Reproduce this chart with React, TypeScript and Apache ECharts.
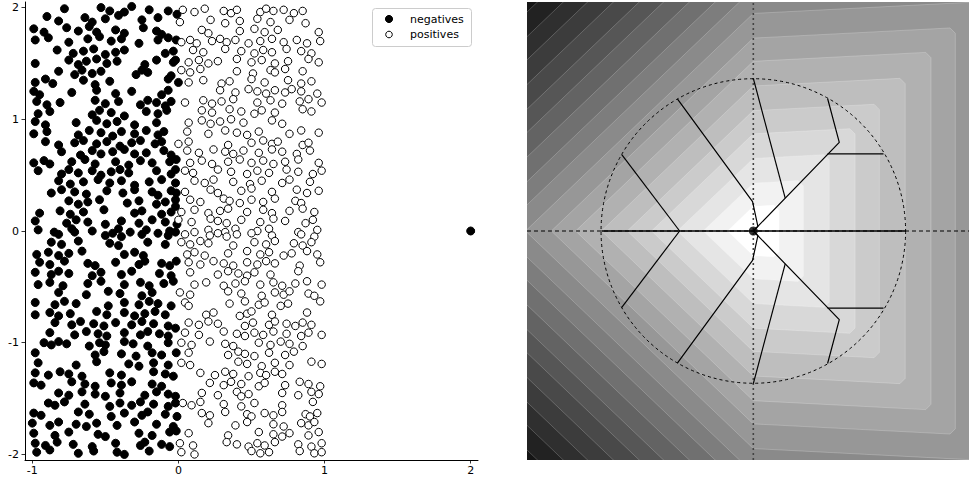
import React, { useEffect, useRef } from "react";
import * as echarts from "echarts";

const xTicks = [-1, 0, 1, 2];
const yTicks = [-2, -1, 0, 1, 2];

const negatives: number[][] = [
  [-0.78,1.99],[-0.53,2.0],[-0.47,1.97],[-0.37,1.96],[-0.32,2.01],[-0.2,1.98],[-0.07,1.97],
  [-0.9,1.92],[-0.82,1.88],[-0.64,1.91],[-0.59,1.87],[-0.5,1.9],[-0.41,1.93],[-0.25,1.89],[-0.14,1.91],[-0.01,1.94],
  [-0.99,1.81],[-0.92,1.78],[-0.765,1.82],[-0.685,1.79],[-0.61,1.83],[-0.56,1.78],[-0.43,1.8],[-0.37,1.77],[-0.24,1.82],[-0.15,1.79],[-0.115,1.76],
  [-0.98,1.71],[-0.89,1.73],[-0.75,1.69],[-0.62,1.72],[-0.54,1.74],[-0.46,1.7],[-0.39,1.72],[-0.27,1.68],[-0.14,1.71],[-0.07,1.73],
  [-0.83,1.62],[-0.72,1.59],[-0.65,1.61],[-0.58,1.63],[-0.5,1.58],[-0.43,1.6],[-0.37,1.62],[-0.09,1.59],[-0.035,1.61],
  [-0.98,1.5],[-0.75,1.53],[-0.685,1.49],[-0.63,1.52],[-0.56,1.54],[-0.49,1.5],[-0.42,1.52],[-0.23,1.49],[-0.15,1.53],[-0.035,1.51],
  [-0.82,1.43],[-0.71,1.4],[-0.66,1.44],[-0.59,1.41],[-0.53,1.43],[-0.29,1.4],[-0.25,1.44],[-0.21,1.42],[-0.05,1.39],
  [-0.98,1.33],[-0.91,1.36],[-0.86,1.32],[-0.65,1.35],[-0.57,1.31],[-0.47,1.34],[-0.07,1.36],[0.0,1.33],
  [-0.99,1.25],[-0.95,1.22],[-0.73,1.24],[-0.56,1.26],[-0.43,1.23],[-0.32,1.25],[-0.115,1.22],[-0.07,1.26],
  [-0.97,1.16],[-0.9,1.13],[-0.81,1.15],[-0.57,1.17],[-0.5,1.14],[-0.41,1.16],[-0.26,1.13],[-0.21,1.17],[-0.15,1.15],[-0.09,1.12],[-0.05,1.16],
  [-0.96,1.05],[-0.88,1.07],[-0.59,1.04],[-0.54,1.08],[-0.46,1.06],[-0.37,1.03],[-0.22,1.07],[-0.14,1.05],[-0.08,1.08],
  [-0.98,0.98],[-0.91,0.95],[-0.7,0.97],[-0.56,0.99],[-0.49,0.96],[-0.42,0.98],[-0.3,0.95],[-0.15,0.97],
  [-0.99,0.87],[-0.9,0.89],[-0.685,0.86],[-0.61,0.9],[-0.53,0.88],[-0.45,0.85],[-0.39,0.89],[-0.3,0.87],[-0.22,0.9],[-0.14,0.86],[-0.1,0.89],
  [-0.91,0.8],[-0.82,0.77],[-0.71,0.79],[-0.65,0.81],[-0.56,0.78],[-0.49,0.8],[-0.4,0.76],[-0.32,0.79],[-0.26,0.81],[-0.16,0.78],[-0.115,0.8],
  [-0.8,0.71],[-0.67,0.68],[-0.59,0.72],[-0.53,0.69],[-0.45,0.71],[-0.37,0.73],[-0.3,0.69],[-0.22,0.7],[-0.1,0.72],[-0.05,0.68],
  [-0.99,0.61],[-0.92,0.63],[-0.88,0.6],[-0.73,0.62],[-0.64,0.64],[-0.57,0.6],[-0.43,0.62],[-0.34,0.59],[-0.26,0.63],[-0.18,0.61],[-0.06,0.62],
  [-0.96,0.54],[-0.8,0.51],[-0.75,0.55],[-0.685,0.52],[-0.59,0.54],[-0.53,0.5],[-0.46,0.53],[-0.4,0.55],[-0.34,0.52],[-0.15,0.54],[-0.05,0.51],
  [-0.82,0.45],[-0.74,0.42],[-0.65,0.44],[-0.55,0.46],[-0.47,0.43],[-0.39,0.45],[-0.3,0.41],[-0.2,0.44],[-0.115,0.46],[-0.02,0.43],
  [-0.87,0.34],[-0.8,0.37],[-0.71,0.35],[-0.63,0.33],[-0.49,0.36],[-0.38,0.34],[-0.3,0.37],[-0.18,0.35],[-0.14,0.32],[-0.05,0.36],
  [-0.75,0.27],[-0.685,0.24],[-0.62,0.26],[-0.54,0.28],[-0.35,0.25],[-0.27,0.27],[-0.15,0.24],[-0.09,0.26],[-0.02,0.28],
  [-0.95,0.16],[-0.81,0.18],[-0.74,0.15],[-0.65,0.17],[-0.51,0.19],[-0.3,0.16],[-0.25,0.18],[-0.115,0.15],[-0.05,0.17],
  [-0.98,0.09],[-0.765,0.07],[-0.7,0.1],[-0.62,0.08],[-0.5,0.06],[-0.39,0.09],[-0.27,0.07],[-0.18,0.1],[-0.09,0.08],[-0.01,0.06],
  [-0.96,0.01],[-0.85,-0.01],[-0.73,0.02],[-0.59,0.0],[-0.41,0.02],[-0.33,-0.01],[-0.22,0.01],[-0.06,0.0],
  [-0.82,-0.03],[-0.71,-0.01],[-0.5,-0.04],[-0.45,-0.02],[-0.39,-0.05],[-0.25,-0.03],[-0.14,-0.02],[-0.07,-0.04],[-0.02,-0.01],
  [-0.87,-0.1],[-0.8,-0.12],[-0.685,-0.09],[-0.47,-0.11],[-0.41,-0.13],[-0.21,-0.1],[-0.09,-0.12],
  [-0.97,-0.21],[-0.89,-0.19],[-0.82,-0.22],[-0.75,-0.2],[-0.66,-0.18],[-0.37,-0.21],[-0.3,-0.19],[-0.24,-0.22],
  [-0.95,-0.28],[-0.88,-0.3],[-0.78,-0.27],[-0.62,-0.29],[-0.57,-0.31],[-0.43,-0.28],[-0.27,-0.3],[-0.23,-0.27],[-0.115,-0.29],[-0.06,-0.31],
  [-0.98,-0.37],[-0.87,-0.39],[-0.82,-0.36],[-0.75,-0.38],[-0.59,-0.4],[-0.53,-0.37],[-0.39,-0.39],[-0.32,-0.36],[-0.13,-0.38],[-0.05,-0.4],
  [-0.96,-0.48],[-0.88,-0.46],[-0.79,-0.49],[-0.62,-0.47],[-0.53,-0.45],[-0.37,-0.48],[-0.26,-0.46],[-0.2,-0.49],[-0.1,-0.47],[-0.035,-0.45],
  [-0.82,-0.55],[-0.63,-0.57],[-0.48,-0.54],[-0.4,-0.56],[-0.25,-0.58],[-0.18,-0.55],
  [-0.98,-0.64],[-0.845,-0.66],[-0.78,-0.63],[-0.7,-0.65],[-0.48,-0.67],[-0.37,-0.64],[-0.27,-0.66],[-0.2,-0.63],[-0.14,-0.65],[-0.05,-0.67],
  [-0.98,-0.75],[-0.88,-0.73],[-0.82,-0.76],[-0.74,-0.74],[-0.56,-0.72],[-0.49,-0.75],[-0.37,-0.73],[-0.3,-0.76],[-0.23,-0.74],[-0.16,-0.72],[-0.09,-0.75],
  [-0.845,-0.82],[-0.73,-0.84],[-0.67,-0.81],[-0.58,-0.83],[-0.51,-0.85],[-0.43,-0.82],[-0.32,-0.84],[-0.25,-0.81],[-0.17,-0.83],[-0.07,-0.85],
  [-0.88,-0.91],[-0.71,-0.93],[-0.63,-0.9],[-0.55,-0.92],[-0.49,-0.94],[-0.37,-0.91],[-0.26,-0.93],[-0.21,-0.9],[-0.13,-0.92],[-0.07,-0.94],
  [-0.92,-1.0],[-0.87,-1.02],[-0.82,-0.99],[-0.765,-1.01],[-0.61,-1.03],[-0.54,-1.0],[-0.5,-1.02],[-0.37,-0.99],[-0.31,-1.01],[-0.21,-1.03],[-0.07,-1.0],
  [-0.98,-1.09],[-0.57,-1.11],[-0.51,-1.08],[-0.39,-1.1],[-0.29,-1.12],[-0.18,-1.09],[-0.115,-1.11],
  [-0.96,-1.18],[-0.7,-1.2],[-0.56,-1.17],[-0.34,-1.19],[-0.27,-1.21],[-0.17,-1.18],[-0.07,-1.2],
  [-0.98,-1.27],[-0.89,-1.29],[-0.81,-1.26],[-0.75,-1.28],[-0.66,-1.3],[-0.47,-1.27],[-0.39,-1.29],[-0.17,-1.26],[-0.09,-1.28],[-0.035,-1.3],
  [-0.99,-1.36],[-0.94,-1.38],[-0.73,-1.35],[-0.64,-1.37],[-0.57,-1.39],[-0.46,-1.36],[-0.39,-1.38],[-0.32,-1.35],[-0.18,-1.37],[-0.115,-1.39],
  [-0.82,-1.45],[-0.75,-1.47],[-0.66,-1.44],[-0.57,-1.46],[-0.5,-1.48],[-0.4,-1.45],[-0.23,-1.47],[-0.15,-1.44],[-0.07,-1.46],[-0.02,-1.48],
  [-0.89,-1.54],[-0.845,-1.56],[-0.78,-1.53],[-0.64,-1.55],[-0.47,-1.57],[-0.4,-1.54],[-0.32,-1.56],[-0.26,-1.53],[-0.17,-1.55],[-0.07,-1.57],
  [-0.99,-1.63],[-0.94,-1.65],[-0.685,-1.62],[-0.61,-1.64],[-0.46,-1.66],[-0.37,-1.63],[-0.25,-1.65],[-0.21,-1.62],[-0.09,-1.64],[-0.01,-1.66],
  [-1.0,-1.72],[-0.88,-1.74],[-0.82,-1.71],[-0.7,-1.73],[-0.63,-1.75],[-0.56,-1.72],[-0.42,-1.74],[-0.3,-1.71],[-0.15,-1.73],[-0.035,-1.75],
  [-0.99,-1.81],[-0.845,-1.83],[-0.75,-1.8],[-0.55,-1.82],[-0.5,-1.84],[-0.27,-1.81],[-0.18,-1.83],[-0.06,-1.8],
  [-0.98,-1.9],[-0.91,-1.92],[-0.83,-1.89],[-0.72,-1.91],[-0.59,-1.93],[-0.43,-1.9],[-0.26,-1.92],[-0.23,-1.89],[-0.115,-1.91],[-0.06,-1.93],
  [-0.97,-1.98],[-0.88,-1.96],[-0.685,-1.99],[-0.58,-1.97],[-0.42,-1.98],[-0.37,-2.0],[-0.2,-1.97],
  [-0.015,1.71],[-0.02,1.53],[-0.015,0.64],[-0.02,0.55],[-0.015,0.34],[-0.02,0.22],
  [-0.015,-0.27],[-0.02,-0.87],[-0.015,-1.09],[-0.02,-1.54],[-0.015,-1.79],
  [2.0,0.0],
];

const positives: number[][] = [
  [0.03,1.98],[0.11,1.96],[0.18,1.99],[0.31,1.97],[0.36,1.95],[0.4,1.98],[0.56,1.96],[0.6,1.99],[0.65,1.97],[0.72,1.98],[0.79,1.95],[0.85,1.97],
  [0.01,1.87],[0.22,1.89],[0.32,1.86],[0.42,1.88],[0.54,1.9],[0.63,1.87],[0.76,1.89],[0.87,1.86],
  [0.16,1.8],[0.205,1.77],[0.42,1.79],[0.52,1.81],[0.59,1.78],[0.68,1.8],[0.96,1.78],
  [0.02,1.69],[0.08,1.71],[0.125,1.68],[0.23,1.7],[0.285,1.72],[0.33,1.69],[0.39,1.71],[0.48,1.68],[0.56,1.7],[0.64,1.72],[0.72,1.69],[0.81,1.71],[0.88,1.68],[0.97,1.7],
  [0.1,1.62],[0.17,1.6],[0.32,1.63],[0.43,1.61],[0.52,1.59],[0.58,1.62],[0.64,1.6],[0.74,1.63],[0.84,1.61],[0.91,1.59],
  [0.07,1.51],[0.14,1.53],[0.205,1.5],[0.27,1.52],[0.4,1.54],[0.5,1.51],[0.57,1.53],[0.66,1.5],[0.75,1.52],[0.89,1.54],[0.96,1.51],
  [0.02,1.44],[0.08,1.42],[0.15,1.45],[0.4,1.43],[0.51,1.41],[0.63,1.44],[0.66,1.42],[0.73,1.45],[0.85,1.43],
  [0.07,1.33],[0.17,1.35],[0.295,1.32],[0.35,1.34],[0.5,1.36],[0.59,1.33],[0.75,1.35],[0.84,1.32],[0.91,1.34],
  [0.285,1.26],[0.39,1.24],[0.48,1.27],[0.54,1.25],[0.6,1.23],[0.66,1.26],[0.73,1.24],[0.775,1.27],[0.84,1.25],[0.95,1.23],
  [0.045,1.15],[0.17,1.17],[0.23,1.14],[0.295,1.16],[0.375,1.18],[0.54,1.15],[0.63,1.17],[0.71,1.14],[0.83,1.16],[0.89,1.18],[0.98,1.15],
  [0.16,1.08],[0.23,1.06],[0.35,1.09],[0.43,1.07],[0.52,1.05],[0.57,1.08],[0.66,1.06],[0.85,1.09],[0.91,1.07],
  [0.07,0.97],[0.16,0.99],[0.22,0.96],[0.285,0.98],[0.36,1.0],[0.445,0.97],[0.64,0.99],[0.71,0.96],
  [0.06,0.89],[0.205,0.87],[0.32,0.9],[0.4,0.88],[0.47,0.86],[0.55,0.89],[0.76,0.87],[0.84,0.9],[0.96,0.88],
  [0.0,0.78],[0.07,0.8],[0.34,0.77],[0.5,0.79],[0.58,0.81],[0.64,0.78],[0.68,0.8],[0.85,0.77],[0.89,0.79],
  [0.06,0.72],[0.14,0.7],[0.24,0.73],[0.32,0.71],[0.375,0.69],[0.445,0.72],[0.55,0.7],[0.64,0.73],[0.71,0.71],[0.81,0.69],[0.9,0.72],
  [0.08,0.61],[0.16,0.63],[0.23,0.6],[0.34,0.62],[0.42,0.64],[0.5,0.61],[0.58,0.63],[0.65,0.6],[0.73,0.62],[0.82,0.64],[0.96,0.61],
  [0.045,0.54],[0.1,0.52],[0.27,0.55],[0.36,0.53],[0.47,0.51],[0.54,0.54],[0.62,0.52],[0.74,0.55],[0.82,0.53],[0.92,0.51],[0.98,0.54],
  [0.11,0.45],[0.18,0.43],[0.24,0.46],[0.375,0.44],[0.49,0.42],[0.57,0.45],[0.71,0.43],[0.76,0.46],[0.9,0.44],
  [0.045,0.35],[0.22,0.37],[0.27,0.34],[0.43,0.36],[0.5,0.38],[0.64,0.35],[0.81,0.37],[0.88,0.34],[0.96,0.36],
  [0.08,0.28],[0.15,0.26],[0.31,0.29],[0.35,0.27],[0.42,0.25],[0.5,0.28],[0.58,0.26],[0.66,0.29],[0.8,0.27],[0.84,0.25],
  [0.02,0.17],[0.11,0.19],[0.205,0.16],[0.285,0.18],[0.34,0.2],[0.47,0.17],[0.58,0.19],[0.64,0.16],[0.76,0.18],[0.85,0.2],[0.93,0.17],
  [0.0,0.1],[0.09,0.08],[0.22,0.11],[0.27,0.09],[0.33,0.07],[0.43,0.1],[0.56,0.08],[0.65,0.11],[0.73,0.09],[0.87,0.07],[0.92,0.1],
  [0.205,0.01],[0.32,-0.01],[0.39,0.02],[0.54,0.0],[0.62,0.02],[0.82,-0.01],[0.95,0.01],
  [0.045,-0.03],[0.11,-0.01],[0.215,-0.04],[0.27,-0.02],[0.33,-0.05],[0.4,-0.03],[0.5,-0.02],[0.64,-0.04],[0.84,-0.03],[0.93,-0.05],
  [0.02,-0.1],[0.08,-0.12],[0.15,-0.09],[0.205,-0.11],[0.375,-0.13],[0.52,-0.1],[0.6,-0.12],[0.66,-0.09],[0.79,-0.11],[0.85,-0.13],[0.91,-0.1],
  [0.06,-0.21],[0.11,-0.19],[0.18,-0.22],[0.34,-0.2],[0.47,-0.18],[0.56,-0.21],[0.62,-0.19],[0.72,-0.22],[0.775,-0.2],[0.88,-0.18],[0.95,-0.21],
  [0.07,-0.28],[0.15,-0.3],[0.24,-0.27],[0.31,-0.29],[0.375,-0.31],[0.47,-0.28],[0.54,-0.3],[0.6,-0.27],[0.66,-0.29],[0.83,-0.31],[0.97,-0.28],
  [0.08,-0.37],[0.27,-0.39],[0.34,-0.36],[0.41,-0.38],[0.47,-0.4],[0.52,-0.37],[0.63,-0.39],[0.82,-0.36],
  [0.11,-0.48],[0.19,-0.46],[0.31,-0.49],[0.39,-0.47],[0.455,-0.45],[0.56,-0.48],[0.65,-0.46],[0.71,-0.49],[0.8,-0.47],[0.88,-0.45],[0.98,-0.48],
  [0.01,-0.55],[0.08,-0.57],[0.34,-0.54],[0.43,-0.56],[0.57,-0.58],[0.66,-0.55],[0.72,-0.57],[0.76,-0.54],[0.89,-0.56],[0.93,-0.58],
  [0.045,-0.64],[0.07,-0.67],[0.35,-0.65],[0.455,-0.63],[0.55,-0.66],[0.59,-0.64],[0.7,-0.67],[0.75,-0.65],[0.97,-0.63],
  [0.19,-0.75],[0.24,-0.73],[0.42,-0.76],[0.47,-0.74],[0.5,-0.72],[0.64,-0.75],[0.88,-0.73],
  [0.07,-0.82],[0.14,-0.84],[0.205,-0.81],[0.27,-0.83],[0.455,-0.85],[0.51,-0.82],[0.62,-0.84],[0.66,-0.81],[0.74,-0.83],[0.8,-0.85],[0.85,-0.82],[0.91,-0.84],
  [0.045,-0.91],[0.14,-0.93],[0.31,-0.9],[0.4,-0.92],[0.455,-0.94],[0.52,-0.91],[0.58,-0.93],[0.65,-0.9],[0.74,-0.92],[0.84,-0.94],[0.89,-0.91],[0.98,-0.93],
  [0.02,-1.0],[0.09,-1.02],[0.215,-0.99],[0.32,-1.01],[0.375,-1.03],[0.55,-1.0],[0.63,-1.02],[0.7,-0.99],[0.76,-1.01],[0.85,-1.03],
  [0.07,-1.09],[0.34,-1.11],[0.41,-1.08],[0.455,-1.1],[0.52,-1.12],[0.62,-1.09],[0.73,-1.11],[0.79,-1.08],
  [0.02,-1.18],[0.08,-1.2],[0.41,-1.17],[0.47,-1.19],[0.57,-1.21],[0.66,-1.18],[0.76,-1.2],[0.91,-1.17],[0.98,-1.19],
  [0.15,-1.27],[0.25,-1.29],[0.32,-1.26],[0.375,-1.28],[0.48,-1.3],[0.56,-1.27],[0.6,-1.29],[0.66,-1.26],[0.71,-1.28],
  [0.215,-1.36],[0.31,-1.38],[0.36,-1.35],[0.43,-1.37],[0.55,-1.39],[0.59,-1.36],[0.73,-1.38],[0.83,-1.35],[0.89,-1.37],[0.97,-1.39],
  [0.16,-1.45],[0.27,-1.47],[0.4,-1.44],[0.43,-1.48],[0.48,-1.46],[0.71,-1.45],[0.82,-1.47],[0.91,-1.44],[0.96,-1.46],
  [0.03,-1.54],[0.09,-1.56],[0.15,-1.53],[0.31,-1.55],[0.43,-1.57],[0.52,-1.54],[0.71,-1.56],[0.92,-1.53],
  [0.16,-1.63],[0.215,-1.65],[0.32,-1.62],[0.47,-1.64],[0.5,-1.66],[0.59,-1.63],[0.65,-1.65],[0.71,-1.62],[0.87,-1.64],[0.9,-1.66],[0.95,-1.63],
  [0.205,-1.72],[0.39,-1.74],[0.47,-1.71],[0.65,-1.73],[0.72,-1.75],[0.84,-1.72],[0.89,-1.74],[0.93,-1.71],
  [0.07,-1.81],[0.34,-1.83],[0.55,-1.8],[0.65,-1.82],[0.71,-1.84],[0.76,-1.81],[0.89,-1.83],[0.96,-1.8],
  [0.01,-1.9],[0.1,-1.92],[0.33,-1.89],[0.4,-1.91],[0.48,-1.93],[0.54,-1.9],[0.59,-1.92],[0.66,-1.89],[0.82,-1.91],[0.91,-1.93],[0.98,-1.9],
  [0.02,-1.98],[0.11,-2.0],[0.5,-1.97],[0.56,-1.99],[0.62,-1.98],[0.83,-1.97],[0.93,-1.99],[0.98,-1.98],
];

// right panel: contour levels (distance from the centre point) and grey of the region inside each level
const levels = [3.17, 3.0, 2.83, 2.67, 2.5, 2.33, 2.17, 2.0, 1.83, 1.67, 1.5, 1.33, 1.17, 1.0, 0.83, 0.67, 0.5, 0.33, 0.17];
const bandGrays = [21, 34, 47, 60, 73, 86, 99, 112, 125, 138, 151, 164, 177, 190, 203, 216, 229, 242, 255];
const bandAxisRatio = 0.95; // where a level meets the vertical axis, as a share of the level
const cornerRound = 0.035;

const trajectories: number[][][] = [
  [[-0.866, 0.5], [-0.485, 0]],
  [[-0.866, -0.5], [-0.485, 0]],
  [[-0.5, 0.866], [-0.005, 0.193], [0.03, 0.03], [0, 0]],
  [[-0.5, -0.866], [-0.005, -0.193], [0.03, -0.03], [0, 0]],
  [[0, 1], [0.21, 0.215]],
  [[0, -1], [0.21, -0.215]],
  [[0, 0], [0.566, 0.58], [0.489, 0.868]],
  [[0, 0], [0.566, -0.58], [0.489, -0.868]],
  [[0.489, 0.505], [0.857, 0.505]],
  [[0.489, -0.505], [0.857, -0.505]],
];
const mainAxisPath = [[-1, 0], [1, 0]];
const verticalRef = [[0, -1.5], [0, 1.5]];
const horizontalRef = [[-1.49, 0], [1.42, 0]];
const circleRadius = 1;
const centrePoint = [[0, 0]];

const FONT = "DejaVu Sans";

export default function App() {
  const ref = useRef<HTMLDivElement>(null);
  useEffect(() => {
    const chart = echarts.init(ref.current!, null, { renderer: "svg" });
    const series: any[] = [
      {
        type: "scatter",
        name: "negatives",
        xAxisIndex: 0,
        yAxisIndex: 0,
        data: negatives,
        symbolSize: 8,
        itemStyle: { color: "#000", borderColor: "#000", borderWidth: 1, opacity: 1 },
        silent: true,
      },
      {
        type: "scatter",
        name: "positives",
        xAxisIndex: 0,
        yAxisIndex: 0,
        data: positives,
        symbolSize: 7.5,
        itemStyle: { color: "#fff", borderColor: "#000", borderWidth: 1, opacity: 1 },
        silent: true,
      },
      {
        type: "custom",
        xAxisIndex: 1,
        yAxisIndex: 1,
        clip: true,
        silent: true,
        z: 1,
        data: levels.map((c, i) => [c, bandGrays[i]]),
        renderItem: (_p: any, api: any) => {
          const c = api.value(0);
          const g = api.value(1);
          const a = c * bandAxisRatio;
          const pts = [
            [-c, 0],
            [0, a],
            [c - cornerRound, c],
            [c, c - cornerRound],
            [c, -c + cornerRound],
            [c - cornerRound, -c],
            [0, -a],
          ].map((p) => api.coord(p));
          return {
            type: "polygon",
            shape: { points: pts },
            style: { fill: `rgb(${g},${g},${g})`, stroke: "rgba(255,255,255,0.35)", lineWidth: 0.6 },
          };
        },
      },
      {
        type: "line",
        xAxisIndex: 1,
        yAxisIndex: 1,
        data: verticalRef,
        symbol: "none",
        silent: true,
        z: 3,
        lineStyle: { color: "#444", width: 1.6, type: [2, 3] },
      },
      {
        type: "line",
        xAxisIndex: 1,
        yAxisIndex: 1,
        data: horizontalRef,
        symbol: "none",
        silent: true,
        z: 3,
        lineStyle: { color: "#000", width: 1, type: [4, 3] },
      },
      {
        type: "custom",
        xAxisIndex: 1,
        yAxisIndex: 1,
        silent: true,
        z: 4,
        data: [[0, 0, circleRadius]],
        renderItem: (_p: any, api: any) => {
          const c = api.coord([api.value(0), api.value(1)]);
          const s = api.size([api.value(2), api.value(2)]);
          return {
            type: "circle",
            shape: { cx: c[0], cy: c[1], r: (s[0] + s[1]) / 2 },
            style: { fill: "none", stroke: "#000", lineWidth: 1, lineDash: [3, 3] },
          };
        },
      },
      {
        type: "line",
        xAxisIndex: 1,
        yAxisIndex: 1,
        data: mainAxisPath,
        symbol: "none",
        silent: true,
        z: 5,
        lineStyle: { color: "#000", width: 1.6 },
      },
      ...trajectories.map((path) => ({
        type: "line",
        xAxisIndex: 1,
        yAxisIndex: 1,
        data: path,
        symbol: "none",
        silent: true,
        z: 5,
        lineStyle: { color: "#000", width: 1.2 },
      })),
      {
        type: "scatter",
        xAxisIndex: 1,
        yAxisIndex: 1,
        data: centrePoint,
        symbolSize: 9,
        silent: true,
        z: 6,
        itemStyle: { color: "#000" },
      },
    ];

    chart.setOption({
      animation: false,
      backgroundColor: "#fff",
      grid: [
        { left: 25, top: 2, width: 453, height: 458 },
        { left: 527, top: 2, width: 442, height: 458 },
      ],
      xAxis: [
        {
          gridIndex: 0,
          type: "value",
          min: -1.05,
          max: 2.05,
          axisLine: { show: true, onZero: false, lineStyle: { color: "#000", width: 1 } },
          axisTick: { show: true, length: 3.5, customValues: xTicks, lineStyle: { color: "#000", width: 0.8 } },
          axisLabel: { customValues: xTicks, margin: 5, fontSize: 11, color: "#000", fontFamily: FONT },
          splitLine: { show: false },
        },
        { gridIndex: 1, type: "value", min: -1.49, max: 1.42, show: false },
      ],
      yAxis: [
        {
          gridIndex: 0,
          type: "value",
          min: -2.05,
          max: 2.05,
          axisLine: { show: true, onZero: false, lineStyle: { color: "#000", width: 1 } },
          axisTick: { show: true, length: 3.5, customValues: yTicks, lineStyle: { color: "#000", width: 0.8 } },
          axisLabel: { customValues: yTicks, margin: 6, fontSize: 11, color: "#000", fontFamily: FONT },
          splitLine: { show: false },
        },
        { gridIndex: 1, type: "value", min: -1.5, max: 1.5, show: false },
      ],
      graphic: [
        {
          type: "group",
          z: 100,
          children: [
            {
              type: "rect",
              shape: { x: 372.5, y: 8.5, width: 99, height: 38, r: 3 },
              style: { fill: "rgba(255,255,255,0.85)", stroke: "#cccccc", lineWidth: 1 },
            },
            { type: "circle", shape: { cx: 389, cy: 19, r: 3.6 }, style: { fill: "#000", stroke: "#000", lineWidth: 1 } },
            { type: "circle", shape: { cx: 389, cy: 34.5, r: 3.3 }, style: { fill: "#fff", stroke: "#000", lineWidth: 1 } },
            {
              type: "text",
              x: 410,
              y: 19,
              style: { text: "negatives", font: `11px "${FONT}"`, fill: "#000", textVerticalAlign: "middle", verticalAlign: "middle" },
            },
            {
              type: "text",
              x: 410,
              y: 34.5,
              style: { text: "positives", font: `11px "${FONT}"`, fill: "#000", textVerticalAlign: "middle", verticalAlign: "middle" },
            },
          ],
        },
      ],
      series,
    });
    return () => chart.dispose();
  }, []);
  return <div ref={ref} style={{ position: "fixed", left: 0, top: 0, width: 969, height: 481 }} />;
}
